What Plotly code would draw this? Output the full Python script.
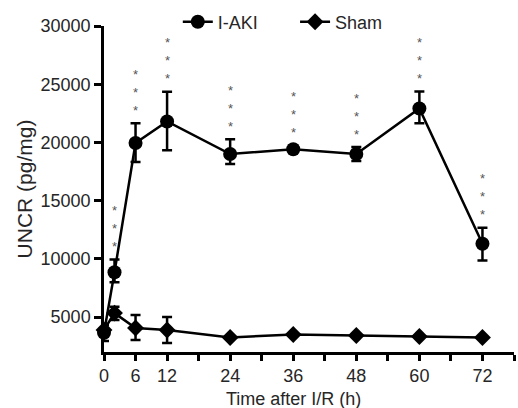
import plotly.graph_objects as go

times = [0, 2, 6, 12, 24, 36, 48, 60, 72]
aki_mean = [3650, 8850, 19950, 21800, 19000, 19420, 19000, 22920, 11300]
aki_err_plus = [700, 1100, 1690, 2560, 1280, 300, 600, 1450, 1380]
aki_err_minus = [700, 860, 1640, 2480, 860, 300, 600, 1280, 1440]
sham_mean = [3900, 5340, 4060, 3890, 3250, 3500, 3420, 3330, 3250]
sham_err_plus = [400, 550, 1110, 1110, 0, 0, 0, 0, 0]
sham_err_minus = [400, 600, 1020, 1110, 0, 0, 0, 0, 0]
star_times = [2, 6, 12, 24, 36, 48, 60, 72]

x_tickvals = list(range(0, 79, 6))
x_labels = {0: "0", 6: "6", 12: "12", 24: "24", 36: "36", 48: "48", 60: "60", 72: "72"}
x_ticktext = [x_labels.get(v, "") for v in x_tickvals]
y_tickvals = [5000, 10000, 15000, 20000, 25000, 30000]
x_title = "Time after I/R (h)"
y_title = "UNCR (pg/mg)"

font_family = "Liberation Sans, Arial, Helvetica, sans-serif"
txt_color = "#262626"

fig = go.Figure()
fig.add_trace(go.Scatter(
    x=times, y=aki_mean, name="I-AKI", mode="lines+markers",
    line=dict(color="black", width=2.5),
    marker=dict(symbol="circle", size=14, color="black"),
    error_y=dict(type="data", array=aki_err_plus, arrayminus=aki_err_minus,
                 symmetric=False, color="black", thickness=2.5, width=5),
    cliponaxis=False, legend="legend",
))
fig.add_trace(go.Scatter(
    x=times, y=sham_mean, name="Sham", mode="lines+markers",
    line=dict(color="black", width=2.5),
    marker=dict(symbol="diamond", size=13, color="black"),
    error_y=dict(type="data", array=sham_err_plus, arrayminus=sham_err_minus,
                 symmetric=False, color="black", thickness=2.5, width=5),
    cliponaxis=False, legend="legend2",
))

for t in star_times:
    i = times.index(t)
    top = aki_mean[i] + aki_err_plus[i]
    for k in range(3):
        fig.add_annotation(
            x=t, y=top, xref="x", yref="y", text="*", showarrow=False,
            yshift=13 + 18 * k,
            font=dict(family=font_family, size=13, color="#555555"),
        )

# x-axis title centred under the labelled span (0..72)
fig.add_annotation(
    x=(min(times) + max(times)) / 2, y=-0.143, xref="x", yref="paper",
    text=x_title, showarrow=False, yanchor="middle",
    font=dict(family=font_family, size=18, color=txt_color),
)

legend_common = dict(orientation="h", y=1.012, xanchor="left", yanchor="middle",
                     font=dict(size=18, color=txt_color), bgcolor="rgba(0,0,0,0)",
                     itemwidth=30)

fig.update_layout(
    width=518, height=408,
    margin=dict(l=104, r=4, t=24, b=56),
    paper_bgcolor="white", plot_bgcolor="white",
    font=dict(family=font_family, size=18, color=txt_color),
    showlegend=True,
    legend=dict(x=0.18, **legend_common),
    legend2=dict(x=0.466, **legend_common),
    xaxis=dict(
        range=[0, 78], tickmode="array", tickvals=x_tickvals, ticktext=x_ticktext,
        showline=True, linecolor="black", linewidth=2.5,
        ticks="outside", ticklen=6, tickwidth=2.5, tickcolor="black",
        showgrid=False, zeroline=False,
        tickfont=dict(size=18, color=txt_color),
    ),
    yaxis=dict(
        range=[2000, 30000], tickmode="array", tickvals=y_tickvals, tickformat="d",
        showline=True, linecolor="black", linewidth=2.5,
        ticks="outside", ticklen=7, tickwidth=2.5, tickcolor="black",
        showgrid=False, zeroline=False,
        tickfont=dict(size=18, color=txt_color),
        title=dict(text=y_title, font=dict(size=21, color=txt_color), standoff=3),
    ),
)

fig.write_html("out.html")
